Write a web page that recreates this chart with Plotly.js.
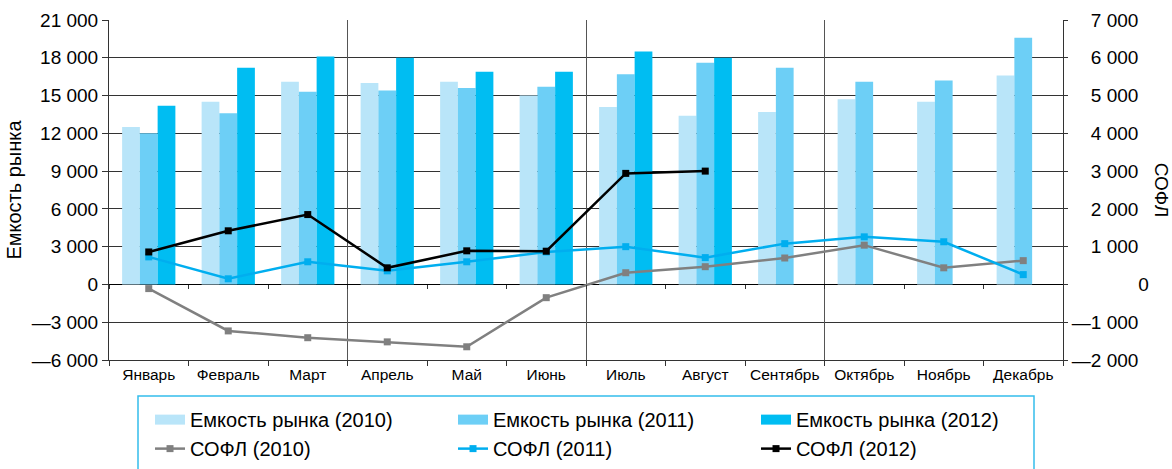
<!DOCTYPE html>
<html>
<head>
<meta charset="utf-8">
<script src="https://cdn.plot.ly/plotly-3.0.1.min.js"></script>
<style>html,body{margin:0;padding:0;background:#fff;}#chart{width:1172px;height:469px;}</style>
</head>
<body>
<div id="chart"></div>
<script>
const months = ['Январь','Февраль','Март','Апрель','Май','Июнь','Июль','Август','Сентябрь','Октябрь','Ноябрь','Декабрь'];

const capacity2010 = [12500, 14500, 16100, 16000, 16100, 15000, 14100, 13400, 13700, 14700, 14500, 16600];
const capacity2011 = [12000, 13600, 15300, 15400, 15600, 15700, 16700, 17600, 17200, 16100, 16200, 19600];
const capacity2012 = [14200, 17200, 18100, 18000, 16900, 16900, 18500, 18000, null, null, null, null];

const sofl2010 = [-110, -1230, -1410, -1520, -1650, -350, 310, 470, 700, 1040, 440, 630];
const sofl2011 = [730, 150, 600, 360, 600, 860, 1000, 710, 1080, 1260, 1130, 260];
const sofl2012 = [860, 1420, 1850, 440, 890, 880, 2940, 3000, null, null, null, null];

const leftTickVals = [-6000, -3000, 0, 3000, 6000, 9000, 12000, 15000, 18000, 21000];
const leftTickText = ['—6 000', '—3 000', '0', '3 000', '6 000', '9 000', '12 000', '15 000', '18 000', '21 000'];
const rightTickVals = [-2000, -1000, 0, 1000, 2000, 3000, 4000, 5000, 6000, 7000];
const rightTickText = ['—2 000', '—1 000', '\u2003\u2007 \u2007\u2007\u20070', '\u20031 000', '\u20032 000', '\u20033 000', '\u20034 000', '\u20035 000', '\u20036 000', '\u20037 000'];

const barNames = ['Емкость рынка (2010)', 'Емкость рынка (2011)', 'Емкость рынка (2012)'];
const lineNames = ['СОФЛ (2010)', 'СОФЛ (2011)', 'СОФЛ (2012)'];
const barColors = ['#b9e5f9', '#6dcff6', '#00bdf2'];
const lineColors = ['#808080', '#00aeef', '#000000'];

const FONT = 'Liberation Sans, Arial, Helvetica, sans-serif';

const barSeries = [capacity2010, capacity2011, capacity2012];
const lineSeries = [sofl2010, sofl2011, sofl2012];
// axes the legend swatch entries are attached to (x2: quarter grid, x3: ticks on the zero line)
const swatchAxes = ['x2', 'x3', 'x'];

const traces = [];
barSeries.forEach((vals, i) => {
  traces.push({
    type: 'bar', x: months, y: vals, name: barNames[i],
    marker: {color: barColors[i], line: {width: 0}},
    showlegend: false, xaxis: 'x', yaxis: 'y'
  });
});
// legend swatches for the bar series (wide rectangles)
barSeries.forEach((vals, i) => {
  traces.push({
    type: 'scatter', mode: 'lines', x: [null], y: [null], name: barNames[i],
    line: {color: barColors[i], width: 12}, xaxis: swatchAxes[i], yaxis: 'y', hoverinfo: 'skip'
  });
});
lineSeries.forEach((vals, i) => {
  traces.push({
    type: 'scatter', mode: 'lines+markers', x: months, y: vals, name: lineNames[i],
    line: {color: lineColors[i], width: 2.5},
    marker: {color: lineColors[i], symbol: 'square', size: 7},
    xaxis: 'x', yaxis: 'y2', connectgaps: false
  });
});

const layout = {
  width: 1172, height: 469,
  paper_bgcolor: '#ffffff', plot_bgcolor: '#ffffff',
  font: {family: FONT, color: '#000', size: 18},
  margin: {l: 109, r: 109, t: 20, b: 109, autoexpand: false},
  barmode: 'group', bargap: 0.33, bargroupgap: 0,
  showlegend: true,
  legend: {
    orientation: 'h', x: 0.043, xanchor: 'left', y: -0.118, yanchor: 'top',
    borderwidth: 0, bgcolor: 'rgba(0,0,0,0)',
    font: {family: FONT, size: 20, color: '#000'},
    entrywidth: 258, entrywidthmode: 'pixels', traceorder: 'normal'
  },
  shapes: [{
    type: 'rect', xref: 'paper', yref: 'paper',
    x0: 29 / 954, x1: 925 / 954, y0: -36 / 340, y1: -120 / 340,
    line: {color: '#35bdec', width: 1.5}, fillcolor: 'rgba(0,0,0,0)', layer: 'below'
  }],
  xaxis: {
    type: 'category', range: [-0.5, 11.5],
    tickson: 'boundaries', ticks: 'outside', ticklen: 5, tickcolor: '#333',
    showgrid: false, showline: true, linecolor: '#333', linewidth: 1,
    tickfont: {family: FONT, size: 15.5, color: '#000'}, zeroline: false
  },
  xaxis2: {
    overlaying: 'x', anchor: 'y', range: [-0.5, 11.5], tick0: -0.5, dtick: 3,
    showgrid: true, gridcolor: '#555', gridwidth: 1,
    showticklabels: false, ticks: '', zeroline: false, showline: false
  },
  xaxis3: {
    overlaying: 'x', anchor: 'free', position: 6 / 27, range: [-0.5, 11.5], tick0: -0.5, dtick: 1,
    showgrid: false, showticklabels: false, ticks: 'outside', ticklen: 4, tickcolor: '#333',
    zeroline: false, showline: false
  },
  yaxis: {
    range: [-6000, 21000], tickvals: leftTickVals, ticktext: leftTickText,
    ticks: 'outside', ticklen: 6, tickcolor: '#333',
    showgrid: true, gridcolor: '#333', gridwidth: 1,
    zeroline: true, zerolinecolor: '#000', zerolinewidth: 1,
    showline: true, linecolor: '#333', linewidth: 1,
    tickfont: {family: FONT, size: 19, color: '#000'},
    title: {text: 'Емкость рынка', font: {family: FONT, size: 20, color: '#000'}, standoff: 4}
  },
  yaxis2: {
    overlaying: 'y', side: 'right', anchor: 'x',
    range: [-2000, 7000], tickvals: rightTickVals, ticktext: rightTickText,
    ticks: 'outside', ticklen: 4, tickcolor: '#333',
    showgrid: false, zeroline: false,
    showline: true, linecolor: '#333', linewidth: 1,
    tickfont: {family: FONT, size: 19, color: '#000'}
  },
  annotations: [{
    text: 'СОФЛ', textangle: 90, xref: 'paper', yref: 'paper', x: 1.104, y: 0.5,
    xanchor: 'center', yanchor: 'middle', showarrow: false,
    font: {family: FONT, size: 19, color: '#000'}
  }]
};

Plotly.newPlot('chart', traces, layout, {displayModeBar: false, staticPlot: true});
</script>
</body>
</html>
